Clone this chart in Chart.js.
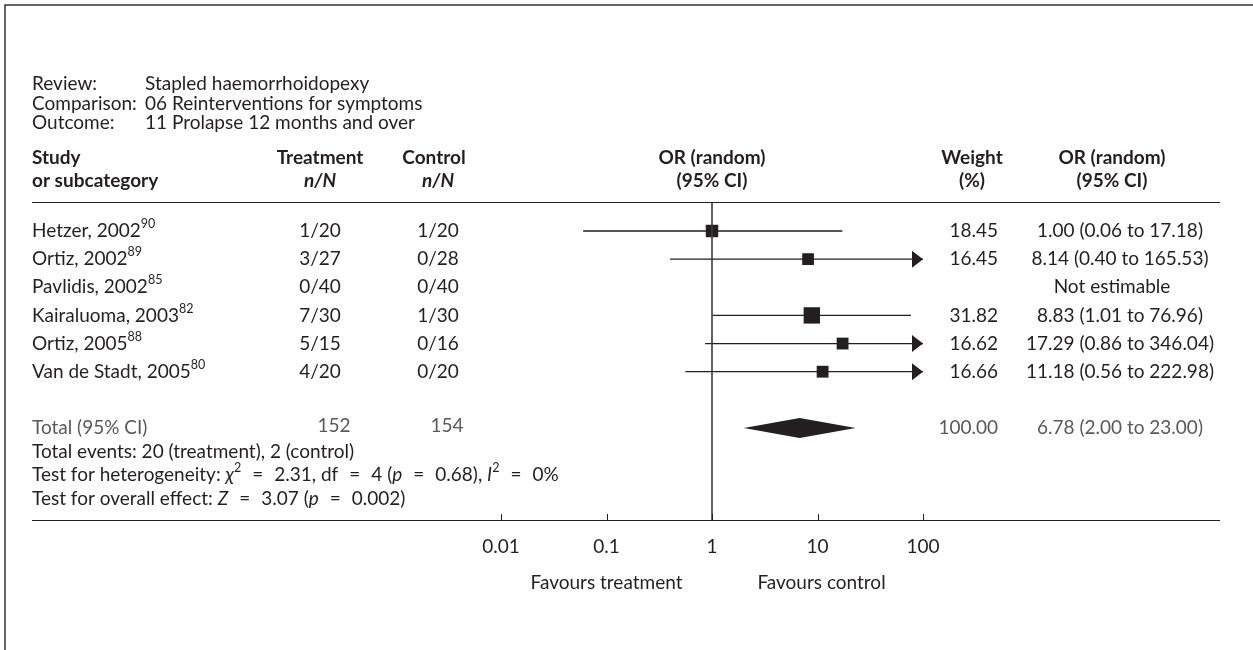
<!DOCTYPE html>
<html>
<head>
<meta charset="utf-8">
<script src="https://cdn.jsdelivr.net/npm/chart.js@4/dist/chart.umd.min.js"></script>
<style>
body { margin: 0; background: #fff; }
#wrap { position: relative; width: 1253px; height: 650px; }
</style>
</head>
<body>
<div id="wrap"><canvas id="chart_1" width="1253" height="650"></canvas></div>
<script>
// data
var studies = ['Hetzer, 2002', 'Ortiz, 2002', 'Pavlidis, 2002', 'Kairaluoma, 2003', 'Ortiz, 2005', 'Van de Stadt, 2005'];
var refs = ['90', '89', '85', '82', '88', '80'];
var treatment = ['1/20', '3/27', '0/40', '7/30', '5/15', '4/20'];
var control = ['1/20', '0/28', '0/40', '1/30', '0/16', '0/20'];
var weights = [18.45, 16.45, null, 31.82, 16.62, 16.66];
var orValues = [1.00, 8.14, null, 8.83, 17.29, 11.18];
var ciLow = [0.06, 0.40, null, 1.01, 0.86, 0.56];
var ciHigh = [17.18, 165.53, null, 76.96, 346.04, 222.98];
var total = { or: 6.78, low: 2.00, high: 23.00, treatment: 152, control: 154, weight: 100.00 };
var xTicks = [0.01, 0.1, 1, 10, 100];

var INK = '#231f20';
var GREY = '#58595b';
var FONT = 'Lato, "Noto Sans", sans-serif';
var FS = 19;

// row numbers on the y scale
var rowOf = [1, 2, 3, 4, 5, 6];
var totalRow = 8;
var yMin = -0.03, yMax = 11.27;

// column anchors
var LEFT = 32, COL_T = 320, COL_C = 438, COL_W = 998, COL_OR = 1120;

function fmt(v) { return v.toFixed(2); }

// " = " with wider gaps, as typeset in the original
function eq() { return [{ g: 11 }, { t: '=' }, { g: 11 }]; }

// text with italics / superscripts
function drawRich(ctx, x, y, parts, size, color) {
  ctx.textAlign = 'left';
  ctx.fillStyle = color;
  for (var i = 0; i < parts.length; i++) {
    var p = parts[i];
    if (p.g) { x += p.g; continue; }
    var s = p.sup ? size * 0.66 : size;
    ctx.font = (p.i ? 'italic ' : '') + (p.b ? 'bold ' : '') + s + 'px ' + FONT;
    var yy = p.sup ? y - size * 0.36 : y;
    ctx.fillText(p.t, x, yy);
    x += ctx.measureText(p.t).width;
  }
}

var tablePlugin = {
  id: 'table',
  afterDraw: function(chart) {
    var ctx = chart.ctx;
    var xs = chart.scales.x, ys = chart.scales.y;
    var area = chart.chartArea;
    var x1 = xs.getPixelForValue(1);
    ctx.save();

    // frame
    ctx.strokeStyle = '#333';
    ctx.lineWidth = 1.5;
    ctx.beginPath();
    ctx.moveTo(5, 650); ctx.lineTo(5, 5); ctx.lineTo(1253, 5);
    ctx.stroke();

    ctx.textBaseline = 'middle';

    // review info
    var info = [['Review:', 'Stapled haemorrhoidopexy'], ['Comparison:', '06 Reinterventions for symptoms'], ['Outcome:', '11 Prolapse 12 months and over']];
    ctx.font = FS + 'px ' + FONT;
    ctx.fillStyle = INK;
    for (var k = 0; k < info.length; k++) {
      ctx.textAlign = 'left';
      ctx.fillText(info[k][0], LEFT, 84 + k * 19.5);
      ctx.fillText(info[k][1], 145, 84 + k * 19.5);
    }

    // headers
    var h1 = 158, h2 = 181;
    ctx.font = 'bold ' + FS + 'px ' + FONT;
    ctx.textAlign = 'left';
    ctx.fillText('Study', LEFT, h1);
    ctx.fillText('or subcategory', LEFT, h2);
    ctx.textAlign = 'center';
    ctx.fillText('Treatment', COL_T, h1);
    ctx.fillText('Control', COL_C - 4, h1);
    ctx.fillText('OR (random)', x1, h1);
    ctx.fillText('(95% CI)', x1, h2);
    ctx.fillText('Weight', COL_W - 26, h1);
    ctx.fillText('(%)', COL_W - 26, h2);
    ctx.fillText('OR (random)', COL_OR - 8, h1);
    ctx.fillText('(95% CI)', COL_OR - 8, h2);
    ctx.font = 'italic bold ' + FS + 'px ' + FONT;
    ctx.fillText('n/N', COL_T, h2);
    ctx.fillText('n/N', COL_C, h2);

    // horizontal rules
    ctx.strokeStyle = INK;
    ctx.lineWidth = 1;
    ctx.beginPath();
    ctx.moveTo(LEFT, Math.round(area.top) + 0.5); ctx.lineTo(1220, Math.round(area.top) + 0.5);
    ctx.moveTo(LEFT, Math.round(area.bottom) + 0.5); ctx.lineTo(1220, Math.round(area.bottom) + 0.5);
    ctx.stroke();

    // axis tick marks above the rule
    ctx.beginPath();
    for (var t = 0; t < xTicks.length; t++) {
      var tx = Math.round(xs.getPixelForValue(xTicks[t])) + 0.5;
      ctx.moveTo(tx, area.bottom); ctx.lineTo(tx, area.bottom - 6);
    }
    ctx.stroke();

    // study rows
    for (var i = 0; i < studies.length; i++) {
      var y = ys.getPixelForValue(rowOf[i]);
      drawRich(ctx, LEFT, y, [{ t: studies[i] }, { t: refs[i], sup: true }], FS, INK);
      ctx.font = FS + 'px ' + FONT;
      ctx.fillStyle = INK;
      ctx.textAlign = 'center';
      ctx.fillText(treatment[i], COL_T, y);
      ctx.fillText(control[i], COL_C, y);
      if (orValues[i] === null) {
        ctx.fillText('Not estimable', COL_OR - 8, y);
      } else {
        ctx.textAlign = 'right';
        ctx.fillText(fmt(weights[i]), COL_W, y);
        ctx.textAlign = 'center';
        ctx.fillText(fmt(orValues[i]) + ' (' + fmt(ciLow[i]) + ' to ' + fmt(ciHigh[i]) + ')', COL_OR, y);
      }
      // arrow where the interval runs off the scale
      if (ciHigh[i] > xs.max) {
        var ax = xs.getPixelForValue(xs.max);
        ctx.fillStyle = INK;
        ctx.beginPath();
        ctx.moveTo(ax, y); ctx.lineTo(ax - 11, y - 8.5); ctx.lineTo(ax - 11, y + 8.5);
        ctx.closePath();
        ctx.fill();
      }
    }

    // pooled diamond
    var ty = ys.getPixelForValue(totalRow);
    ctx.fillStyle = INK;
    ctx.beginPath();
    ctx.moveTo(xs.getPixelForValue(total.low), ty);
    ctx.lineTo(xs.getPixelForValue(total.or), ty - 10);
    ctx.lineTo(xs.getPixelForValue(total.high), ty);
    ctx.lineTo(xs.getPixelForValue(total.or), ty + 10);
    ctx.closePath();
    ctx.fill();

    // totals
    ctx.font = FS + 'px ' + FONT;
    ctx.fillStyle = GREY;
    ctx.textAlign = 'left';
    ctx.fillText('Total (95% CI)', LEFT, ty);
    ctx.textAlign = 'center';
    ctx.fillText(fmt(total.or) + ' (' + fmt(total.low) + ' to ' + fmt(total.high) + ')', COL_OR, ty);
    ctx.fillText(String(total.treatment), COL_T + 14, ty - 2);
    ctx.fillText(String(total.control), COL_C + 9, ty - 2);
    ctx.textAlign = 'right';
    ctx.fillText(fmt(total.weight), COL_W, ty);

    // footer lines
    var step = 23.5;
    ctx.fillStyle = INK;
    ctx.textAlign = 'left';
    ctx.fillText('Total events: 20 (treatment), 2 (control)', LEFT, ty + step);
    drawRich(ctx, LEFT, ty + 2 * step, [
      { t: 'Test for heterogeneity: ' }, { t: 'χ', i: true }, { t: '2', sup: true }
    ].concat(eq(), [{ t: '2.31, df' }], eq(), [{ t: '4 (' }, { t: 'p', i: true }], eq(),
      [{ t: '0.68), ' }, { t: 'I', i: true }, { t: '2', sup: true }], eq(), [{ t: '0%' }]), FS, INK);
    drawRich(ctx, LEFT, ty + 3 * step, [
      { t: 'Test for overall effect: ' }, { t: 'Z', i: true }
    ].concat(eq(), [{ t: '3.07 (' }, { t: 'p', i: true }], eq(), [{ t: '0.002)' }]), FS, INK);

    // favours labels
    ctx.font = FS + 'px ' + FONT;
    ctx.textAlign = 'center';
    ctx.fillText('Favours treatment', xs.getPixelForValue(0.1), 583);
    ctx.fillText('Favours control', xs.getPixelForValue(10) + 4, 583);

    ctx.restore();
  }
};

var datasets = [];
// line of no effect
datasets.push({
  data: [{ x: 1, y: yMin }, { x: 1, y: yMax }],
  showLine: true, borderColor: '#3a3a3a', borderWidth: 1.6, pointRadius: 0
});
for (var i = 0; i < studies.length; i++) {
  if (orValues[i] === null) continue;
  datasets.push({
    data: [{ x: ciLow[i], y: rowOf[i] }, { x: ciHigh[i], y: rowOf[i] }],
    showLine: true, borderColor: INK, borderWidth: 1.3, pointRadius: 0
  });
}
// study squares sized by weight
var squares = [], radii = [];
for (var i = 0; i < studies.length; i++) {
  if (orValues[i] === null) continue;
  squares.push({ x: orValues[i], y: rowOf[i] });
  radii.push(2.05 * Math.sqrt(weights[i]));
}
datasets.push({
  data: squares, showLine: false, pointStyle: 'rect',
  pointRadius: radii, backgroundColor: INK, borderColor: INK, borderWidth: 0
});

var ctx_1 = document.getElementById('chart_1').getContext('2d');
var chart_1 = new Chart(ctx_1, {
  type: 'scatter',
  data: { datasets: datasets },
  options: {
    responsive: false,
    animation: false,
    events: [],
    layout: { padding: { left: 501, right: 330, top: 202, bottom: 90 } },
    plugins: { legend: { display: false }, tooltip: { enabled: false } },
    scales: {
      x: {
        type: 'logarithmic', min: 0.01, max: 100,
        border: { display: false },
        grid: { display: false, drawTicks: false },
        afterBuildTicks: function(scale) {
          scale.ticks = xTicks.map(function(v) { return { value: v }; });
        },
        afterFit: function(scale) { scale.height = 40; },
        ticks: {
          autoSkip: false, maxRotation: 0, padding: 15, color: INK,
          font: { family: FONT, size: FS },
          callback: function(v) { return String(v); }
        }
      },
      y: {
        type: 'linear', reverse: true, min: yMin, max: yMax, display: false
      }
    }
  },
  plugins: [tablePlugin]
});
</script>
</body>
</html>
